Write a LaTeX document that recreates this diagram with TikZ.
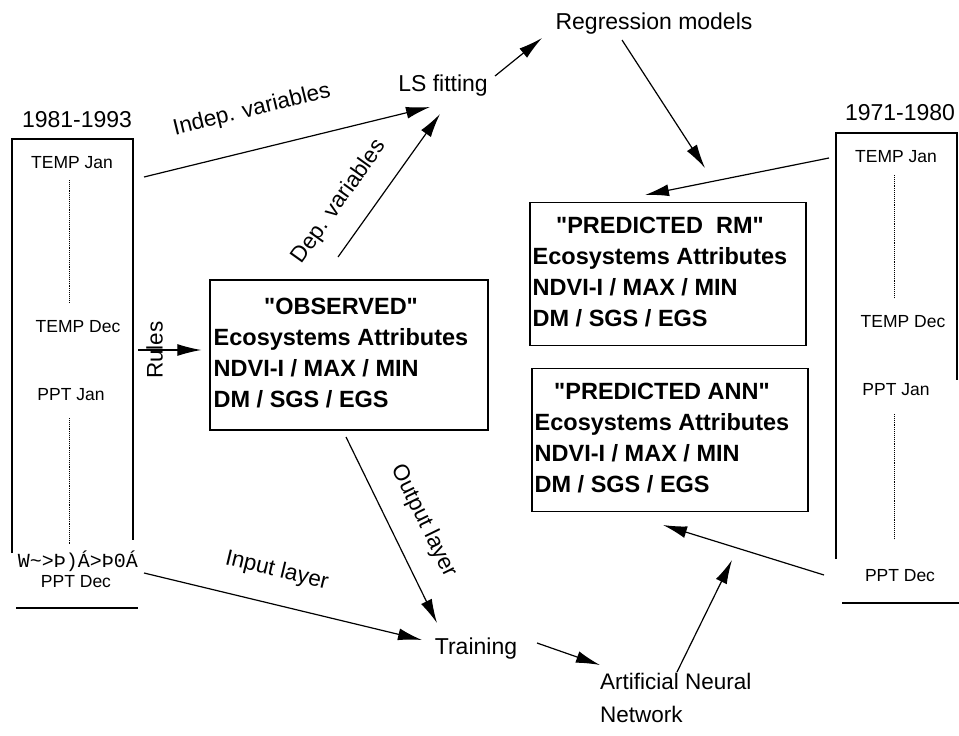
\documentclass[tikz,border=0pt]{standalone}
\usepackage{fontspec}
\setmainfont{Liberation Sans}[Ligatures=TeXOff]
\newfontfamily\junkfont{Liberation Mono}
\usetikzlibrary{arrows.meta,positioning}
\tikzset{
	frame/.style={line width=1.3pt},
	dotline/.style={line width=0.7pt, dash pattern=on 0.7pt off 1.2pt},
	flow/.style={line width=1.2pt, -{Latex[length=24pt,width=12pt]}},
	lbl/.style={font=\fontsize{23}{27}\selectfont, inner sep=2pt},
	arrowlbl/.style={font=\fontsize{22.5}{27}\selectfont, inner sep=2pt},
	month/.style={font=\fontsize{17.5}{21}\selectfont, inner sep=1pt},
	attrbox/.style={draw, line width=1.3pt, minimum width=276pt, minimum height=143pt, inner sep=0pt, font=\bfseries\fontsize{23.5}{31}\selectfont}
}
\newcommand{\ecoattr}[1]{\begin{tabular}{@{}l@{\hspace{16pt}}}\multicolumn{1}{@{}c@{\hspace{16pt}}}{#1}\\Ecosystems Attributes\\NDVI-I / MAX / MIN\\DM / SGS / EGS\end{tabular}}

\begin{document}
\begin{tikzpicture}[x=1pt,y=-1pt]
		\useasboundingbox (0,0) rectangle (959,736);
		%%%%% 1981-1993 %%%%%
		\node[lbl] (per1) at (77,120) {1981-1993};
		\draw[frame] (12,553) -- (12,139) -- (133,139) -- (133,540);
		\draw[frame] (16,608) -- (138,608);
		\node[month] (tjan1) at (72,163) {TEMP Jan};
		\node[month] (tdec1) at (78,327) {TEMP Dec};
		\node[month] (pjan1) at (71,395) {PPT Jan};
		\node[month] (pdec1) at (76,582) {PPT Dec};
		\node[font=\junkfont\fontsize{20}{24}\selectfont, inner sep=0pt] (junk) at (78,561) {W\symbol{126}>Þ)Á>Þ0Á};
		\draw[dotline] (69,180) -- (69,303);
		\draw[dotline] (69,418) -- (69,545);
		
		%%%%% 1971-1980 %%%%%
		\node[lbl] (per2) at (900,113) {1971-1980};
		\draw[frame] (836,559) -- (836,133) -- (957,133) -- (957,380);
		\draw[frame] (842,603) -- (959,603);
		\node[month] (tjan2) at (896,157) {TEMP Jan};
		\node[month] (tdec2) at (903,322) {TEMP Dec};
		\node[month] (pjan2) at (896,390) {PPT Jan};
		\node[month] (pdec2) at (900,576) {PPT Dec};
		\draw[dotline] (894,175) -- (894,298);
		\draw[dotline] (894,414) -- (894,538);
		
		%%%%% attribute boxes %%%%%
		\node[attrbox, minimum width=278pt, minimum height=150pt] (obs) at (349,355) {\ecoattr{"OBSERVED"}};
		\node[attrbox] (rm) at (668,274) {\ecoattr{"PREDICTED~~RM"}};
		\node[attrbox] (ann) at (670,440) {\ecoattr{"PREDICTED ANN"}};
		
		%%%%% steps %%%%%
		\node[lbl] (ls) at (443,86) {LS fitting};
		\node[lbl] (reg) at (654,24) {Regression models};
		\node[lbl] (train) at (476,649) {Training};
		\node[lbl, align=left, anchor=west, inner sep=0pt, font=\fontsize{22.5}{33}\selectfont] (net) at (600,698) {Artificial Neural\\Network};
		
		%%%%% arrow ends %%%%%
		\coordinate (ind-a) at (144,177);
		\coordinate (ind-b) at (430,107);
		\coordinate (dep-a) at (338,257);
		\coordinate (dep-b) at (440,114);
		\coordinate (ls-out) at (495,76);
		\coordinate (reg-in) at (542,38);
		\coordinate (reg-out) at (622,40);
		\coordinate (rm-in1) at (705,168);
		\coordinate (per2-a) at (829,158);
		\coordinate (rm-in2) at (645,195);
		\coordinate (rule-a) at (138,350);
		\coordinate (out-a) at (346,437);
		\coordinate (out-b) at (437,623);
		\coordinate (in-a) at (144,573);
		\coordinate (in-b) at (422,640);
		\coordinate (train-out) at (537,643);
		\coordinate (net-in) at (600,665);
		\coordinate (net-out) at (677,672);
		\coordinate (ann-in1) at (732,560);
		\coordinate (per2-b) at (824,575);
		\coordinate (ann-in2) at (663,525);
		
		%%%%% arrows %%%%%
		\draw[flow] (ind-a) -- node[arrowlbl, sloped, pos=0.41, above=26pt] {Indep. variables} (ind-b);
		\draw[flow] (dep-a) -- node[arrowlbl, sloped, pos=0.26, above=18pt] {Dep. variables} (dep-b);
		\draw[flow] (ls-out) -- (reg-in);
		\draw[flow] (reg-out) -- (rm-in1);
		\draw[flow] (per2-a) -- (rm-in2);
		\draw[flow] (rule-a) -- node[arrowlbl, pos=0.26, rotate=90] {Rules} ([xshift=-8pt]rule-a -| obs.west);
		\draw[flow] (out-a) -- node[arrowlbl, sloped, pos=0.53, above=20pt] {Output layer} (out-b);
		\draw[flow] (in-a) -- node[arrowlbl, sloped, pos=0.45, above=20pt] {Input layer} (in-b);
		\draw[flow] (train-out) -- (net-in);
		\draw[flow] (net-out) -- (ann-in1);
		\draw[flow] (per2-b) -- (ann-in2);
		
\end{tikzpicture}
\end{document}
